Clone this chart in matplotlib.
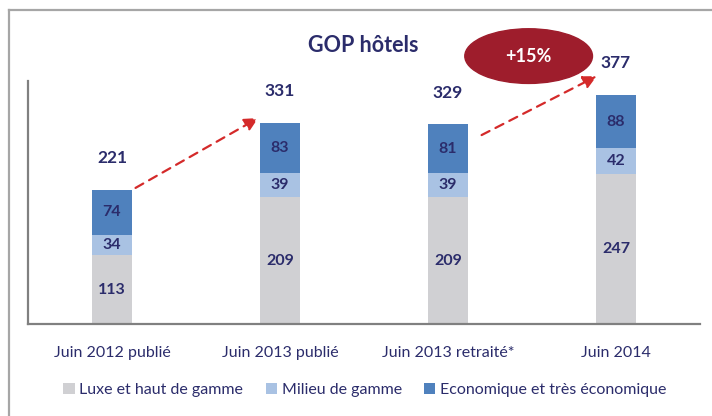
import matplotlib
matplotlib.use("Agg")
import matplotlib.pyplot as plt
from matplotlib.patches import Ellipse
from matplotlib.lines import Line2D
import numpy as np

plt.rcParams['font.family'] = ['Lato', 'DejaVu Sans']

# data
categories = ["Juin 2012 publié", "Juin 2013 publié", "Juin 2013 retraité*", "Juin 2014"]
luxe = [113, 209, 209, 247]
milieu = [34, 39, 39, 42]
eco = [74, 83, 81, 88]
totals = [221, 331, 329, 377]
series_names = ["Luxe et haut de gamme", "Milieu de gamme", "Economique et très économique"]
growth_label = "+15%"

NAVY = "#2b2c6b"
colors = ["#d0d0d3", "#a9c2e3", "#4f81bd"]
RED = "#d42a2a"
ELLIPSE = "#9e1d2c"

fig = plt.figure(figsize=(7.12, 4.16), dpi=100)
ax = fig.add_axes([28 / 712, 92 / 416, 672 / 712, 243 / 416])

x = np.arange(len(categories))
w = 0.24
bottoms = np.zeros(len(categories))
bars = []
for vals, col, name in zip([luxe, milieu, eco], colors, series_names):
    b = ax.bar(x, vals, w, bottom=bottoms, color=col, label=name, zorder=2)
    for xi, v, b0 in zip(x, vals, bottoms):
        ax.text(xi, b0 + v / 2, str(v), ha='center', va='center',
                fontsize=11.5, fontweight='bold', color=NAVY)
    bottoms += np.array(vals)
    bars.append(b)

for xi, t in zip(x, totals):
    ax.text(xi, t + 52, str(t), ha='center', va='center',
            fontsize=12.5, fontweight='bold', color=NAVY, clip_on=False)

ax.set_xlim(-0.5, len(categories) - 0.5)
ax.set_ylim(0, 400)
ax.set_yticks([])
ax.set_xticks(x)
ax.set_xticklabels(categories, fontsize=11.5, color=NAVY)
ax.tick_params(axis='x', length=0, pad=16)
for s in ['top', 'right']:
    ax.spines[s].set_visible(False)
for s in ['left', 'bottom']:
    ax.spines[s].set_color('#808080')
    ax.spines[s].set_linewidth(1.6)

# dashed growth arrows
arrow_kw = dict(arrowstyle='-|>', linestyle=(0, (4, 3)), color=RED, lw=1.6,
                mutation_scale=20, shrinkA=0, shrinkB=0)
ax.annotate("", xy=(1 - w / 2 - 0.01, totals[1] + 8),
            xytext=(0 + w / 2 + 0.02, totals[0] + 3),
            arrowprops=arrow_kw, annotation_clip=False)
ax.annotate("", xy=(3 - w / 2 + 0.005, totals[3] + 31),
            xytext=(2 + w / 2 + 0.08, totals[2] - 18),
            arrowprops=arrow_kw, annotation_clip=False)

ell = Ellipse((2.48, totals[3] + 64), 0.76, 90, color=ELLIPSE, clip_on=False, zorder=3)
ax.add_patch(ell)
ax.text(2.48, totals[3] + 64, growth_label, ha='center', va='center',
        fontsize=13, fontweight='bold', color='white', zorder=4, clip_on=False)

fig.text(363 / 712, 1 - 45 / 416, "GOP hôtels", ha='center', va='center',
         fontsize=15.5, fontweight='bold', color=NAVY)

fig.legend(handles=bars, labels=series_names, loc='center', ncol=3,
           bbox_to_anchor=(365 / 712, 1 - 390 / 416), frameon=False,
           fontsize=11.5, labelcolor=NAVY, handlelength=0.7, handleheight=0.7,
           handletextpad=0.3, columnspacing=1.4)

# outer frame
frame_kw = dict(color='#a6a6a6', lw=1.6, transform=fig.transFigure)
fig.add_artist(Line2D([8.5 / 712, 8.5 / 712], [0, 1 - 10 / 416], **frame_kw))
fig.add_artist(Line2D([8.5 / 712, 1], [1 - 10 / 416, 1 - 10 / 416], **frame_kw))

fig.savefig("out.png", dpi=100)
